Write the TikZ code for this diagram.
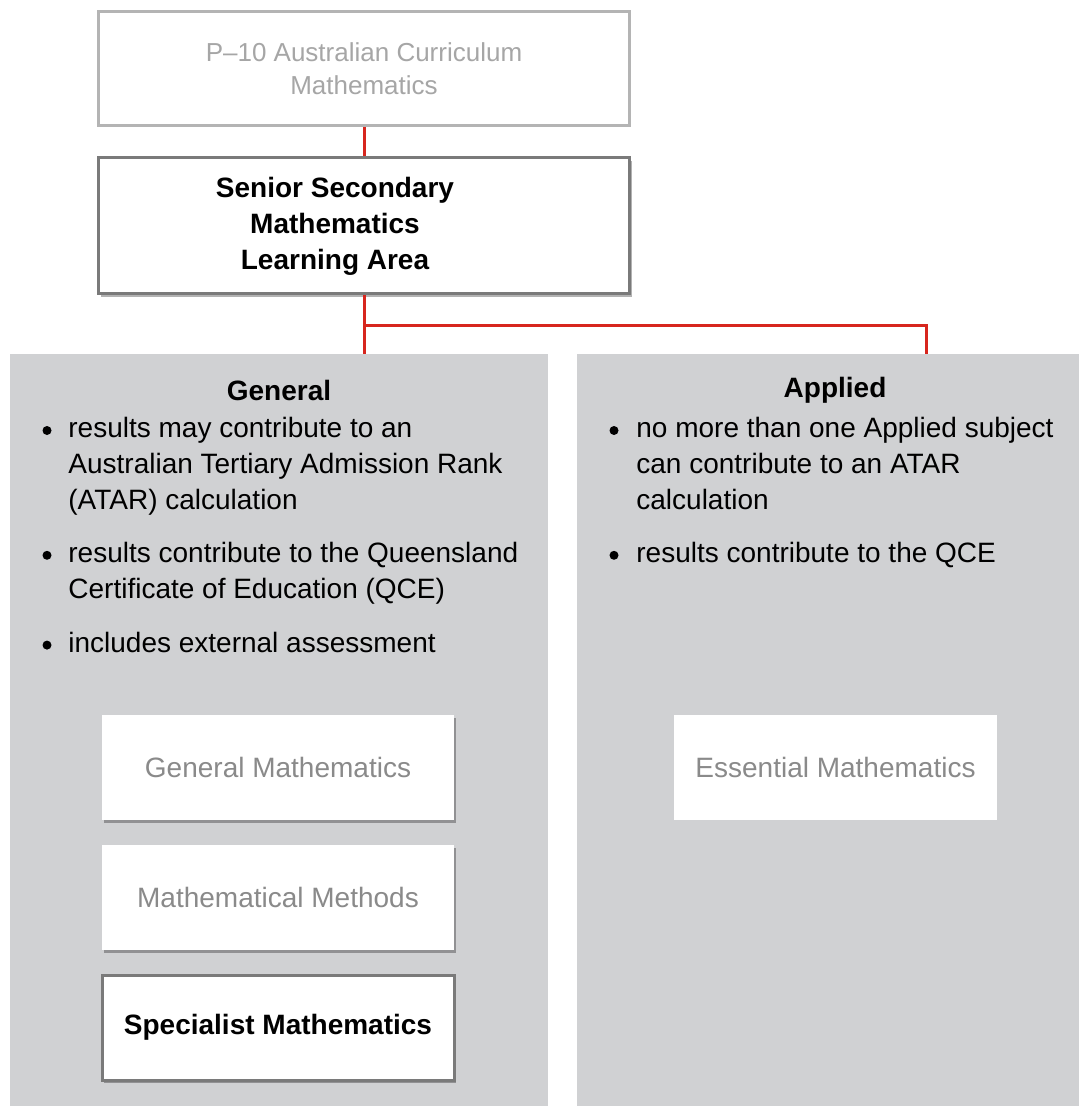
\documentclass[tikz,border=0pt]{standalone}
\usepackage{fontspec}
\setmainfont{Liberation Sans}
\usetikzlibrary{positioning,shadows}

\definecolor{linkred}{HTML}{D7261E}
\definecolor{panelgray}{HTML}{D0D1D3}
\definecolor{fadetext}{HTML}{A6A6A6}
\definecolor{subtext}{HTML}{8A8A8A}
\definecolor{darkframe}{HTML}{7A7A7A}
\definecolor{lightframe}{HTML}{B4B4B4}

\newcommand{\bodyfont}{\fontsize{14}{18}\selectfont}

\tikzset{
    link/.style={linkred, line width=1.5pt},
    softshadow/.style={drop shadow={shadow xshift=1pt, shadow yshift=-1.5pt, fill=black, opacity=0.3}},
    areabox/.style={draw=lightframe, line width=1.5pt, fill=white, minimum width=265.5pt,
        minimum height=57pt, align=center, text=fadetext, font=\fontsize{13}{16.5}\selectfont},
    seniorbox/.style={draw=darkframe, line width=1.5pt, fill=white, minimum width=265.5pt,
        minimum height=68pt, softshadow},
    panel/.style={fill=panelgray, minimum height=376pt, inner sep=0pt},
    paneltitle/.style={font=\bodyfont\bfseries},
    itemtext/.style={anchor=north west, inner sep=0pt, align=left},
    subject/.style={fill=white, minimum width=176pt, minimum height=52.5pt, text=subtext},
}

\begin{document}
\begin{tikzpicture}[x=0.5pt,y=-0.5pt,font=\bodyfont]

    \useasboundingbox (0,0) rectangle (1079,1106);

    % Top of the chart
    \node[areabox] (p10) at (364,69) {P–10 Australian Curriculum\\Mathematics};
    \node[seniorbox] (senior) at (364,226) {};
    \node[align=center, font=\bodyfont\bfseries] (seniortxt) at (335,226)
        {Senior Secondary\\Mathematics\\Learning Area};

    % Two panels
    \node[panel, minimum width=269pt] (general) at (279,730) {};
    \node[panel, minimum width=251pt] (applied) at (828,730) {};
    \coordinate (fork) at (364,326);
    \coordinate (appin) at (926,354);

    % Red connectors
    \draw[link] (p10) -- (senior);
    \draw[link] (senior) -- (senior.south |- general.north);
    \draw[link] (fork) -| (appin);

    % General
    \node[paneltitle] (gentitle) at (279,390) {General};
    \node[itemtext] (g1) at (68,412) {\strut results may contribute to an\\Australian Tertiary Admission Rank\\(ATAR) calculation\strut};
    \node[itemtext, below=8pt of g1.south west, anchor=north west] (g2) {\strut results contribute to the Queensland\\Certificate of Education (QCE)\strut};
    \node[itemtext, below=8.5pt of g2.south west, anchor=north west] (g3) {\strut includes external assessment\strut};
    \foreach \n in {g1,g2,g3}
        \fill (\n.north west) ++(-21,18.5) circle (4.5);

    \node[subject, softshadow] (genmath) at (278,767.5) {General Mathematics};
    \node[subject, softshadow] (methods) at (278,897.5) {Mathematical Methods};
    \node[subject, softshadow, draw=darkframe, line width=1.5pt, text=black, font=\bodyfont\bfseries]
        (specialist) at (278,1027.5) {Specialist Mathematics};

    % Applied
    \node[paneltitle] (apptitle) at (835,390) {Applied};
    \node[itemtext] (a1) at (636,412) {\strut no more than one Applied subject\\can contribute to an ATAR\\calculation\strut};
    \node[itemtext, below=8pt of a1.south west, anchor=north west] (a2) {\strut results contribute to the QCE\strut};
    \foreach \n in {a1,a2}
        \fill (\n.north west) ++(-22,18.5) circle (4.5);

    \node[subject, minimum width=161.5pt] (essential) at (835.5,767.5) {Essential Mathematics};

\end{tikzpicture}
\end{document}
